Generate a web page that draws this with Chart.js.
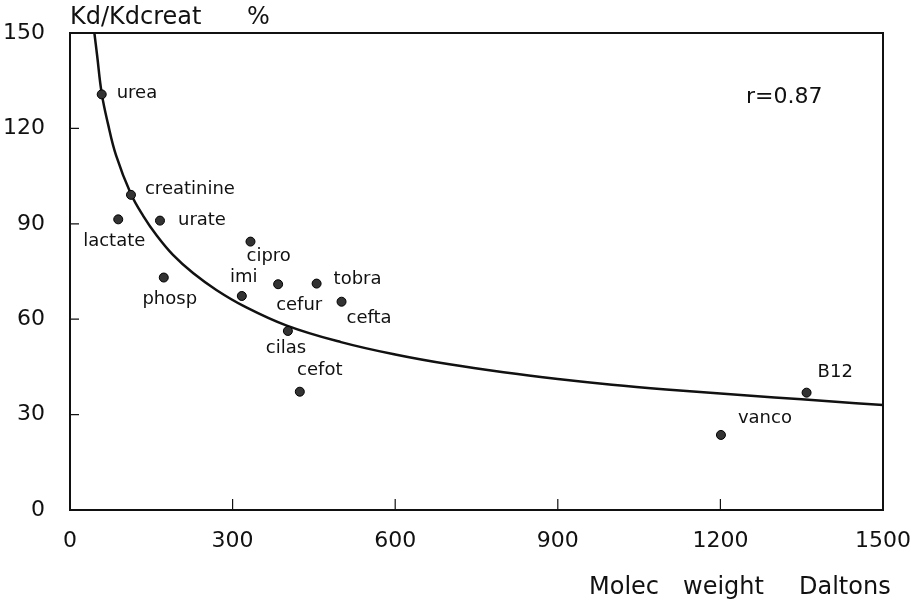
<!DOCTYPE html>
<html>
<head>
<meta charset="utf-8">
<script src="https://cdn.jsdelivr.net/npm/chart.js@4.4.1/dist/chart.umd.min.js"></script>
<style>
  html, body { margin: 0; padding: 0; background: #fff; }
  #wrap { width: 921px; height: 603px; }
</style>
</head>
<body>
<div id="wrap"><canvas id="kd"></canvas></div>
<script>
// values
const drugs = ['urea', 'creatinine', 'lactate', 'urate', 'phosp', 'imi', 'cipro',
  'cefur', 'tobra', 'cefta', 'cilas', 'cefot', 'vanco', 'B12'];
const molecWeight = [58.5, 112.5, 89, 166, 173, 317, 333, 384, 455, 501, 402, 424, 1201, 1359];
const kdRatio = [130.7, 99.1, 91.4, 91, 73.1, 67.3, 84.4, 71, 71.2, 65.5, 56.3, 37.2, 23.6, 36.9];

// fitted curve
const fitX = [45, 50, 58.5, 70, 85, 112, 135, 160, 190, 227, 270, 320, 400, 500, 600, 700, 800, 900, 1000, 1100, 1200, 1300, 1400, 1500];
const fitY = [150, 143, 131, 121.5, 111.5, 99.5, 92.5, 86.3, 80.2, 74.5, 69.2, 64.2, 58, 52.8, 48.9, 45.8, 43.3, 41.2, 39.4, 37.9, 36.6, 35.4, 34.2, 33];

const xTicks = [0, 300, 600, 900, 1200, 1500];
const yTicks = [0, 30, 60, 90, 120, 150];
const corr = 'r=0.87';

const FONT = '"DejaVu Sans", sans-serif';
const INK = '#111';

// where each name sits relative to its dot: [dx, dy, align]
const labelPlace = {
  urea: [15, -1, 'left'], creatinine: [14, -6, 'left'], urate: [18, 0, 'left'],
  lactate: [-4, 22, 'center'], cipro: [-4, 15, 'left'], phosp: [6, 22, 'center'],
  imi: [2, -19, 'center'], cefur: [-2, 21, 'left'], tobra: [17, -4, 'left'],
  cefta: [5, 17, 'left'], cilas: [-2, 17, 'center'], cefot: [20, -21, 'center'],
  vanco: [17, -17, 'left'], B12: [11, -20, 'left']
};

const decor = {
  id: 'decor',
  afterDatasetsDraw(chart) {
    const { ctx, chartArea: a, scales: { x, y } } = chart;
    ctx.save();
    ctx.strokeStyle = INK;
    ctx.lineWidth = 2;
    ctx.strokeRect(a.left, a.top, a.right - a.left, a.bottom - a.top);

    // inward tick marks
    ctx.lineWidth = 1.2;
    ctx.beginPath();
    yTicks.slice(1, -1).forEach(v => {
      const py = y.getPixelForValue(v);
      ctx.moveTo(a.left, py); ctx.lineTo(a.left + 9, py);
    });
    xTicks.slice(1, -1).forEach(v => {
      const px = x.getPixelForValue(v);
      ctx.moveTo(px, a.bottom); ctx.lineTo(px, a.bottom - 11);
    });
    ctx.stroke();

    // point names
    ctx.fillStyle = INK;
    ctx.font = '18px ' + FONT;
    ctx.textBaseline = 'middle';
    drugs.forEach((name, i) => {
      const [dx, dy, al] = labelPlace[name];
      ctx.textAlign = al;
      ctx.fillText(name, x.getPixelForValue(molecWeight[i]) + dx, y.getPixelForValue(kdRatio[i]) + dy);
    });

    // axis captions and r value
    ctx.textAlign = 'left';
    ctx.font = '24px ' + FONT;
    ctx.fillText('Kd/Kdcreat', a.left, 18);
    ctx.fillText('%', 247, 18);
    ctx.fillText('Molec', 589, 588);
    ctx.fillText('weight', 683, 588);
    ctx.fillText('Daltons', 799, 588);
    ctx.font = '22px ' + FONT;
    ctx.fillText(corr, 746, 97);
    ctx.restore();
  }
};

new Chart(document.getElementById('kd'), {
  type: 'scatter',
  data: {
    datasets: [
      {
        label: 'Kd/Kdcreat',
        data: molecWeight.map((mw, i) => ({ x: mw, y: kdRatio[i] })),
        pointRadius: 4.5,
        pointBackgroundColor: '#333',
        pointBorderColor: '#000',
        pointBorderWidth: 1,
        order: 0
      },
      {
        type: 'line',
        label: 'fit',
        data: fitX.map((mw, i) => ({ x: mw, y: fitY[i] })),
        borderColor: INK,
        borderWidth: 2.5,
        pointRadius: 0,
        tension: 0.4,
        fill: false,
        order: 1
      }
    ]
  },
  options: {
    responsive: true,
    maintainAspectRatio: false,
    animation: false,
    layout: { padding: { top: 33, right: 38, left: 0, bottom: 0 } },
    plugins: { legend: { display: false }, tooltip: { enabled: false } },
    scales: {
      x: {
        type: 'linear', min: 0, max: 1500,
        afterBuildTicks: s => { s.ticks = xTicks.map(v => ({ value: v })); },
        afterFit: s => { s.height = 93; },
        grid: { display: false },
        border: { display: false },
        ticks: { color: INK, font: { family: FONT, size: 22 }, padding: 10, maxRotation: 0,
          callback: v => String(v) }
      },
      y: {
        min: 0, max: 150,
        afterBuildTicks: s => { s.ticks = yTicks.map(v => ({ value: v })); },
        afterFit: s => { s.width = 70; },
        grid: { display: false },
        border: { display: false },
        ticks: { color: INK, font: { family: FONT, size: 22 }, padding: 17,
          callback: v => String(v) }
      }
    }
  },
  plugins: [decor]
});
</script>
</body>
</html>
